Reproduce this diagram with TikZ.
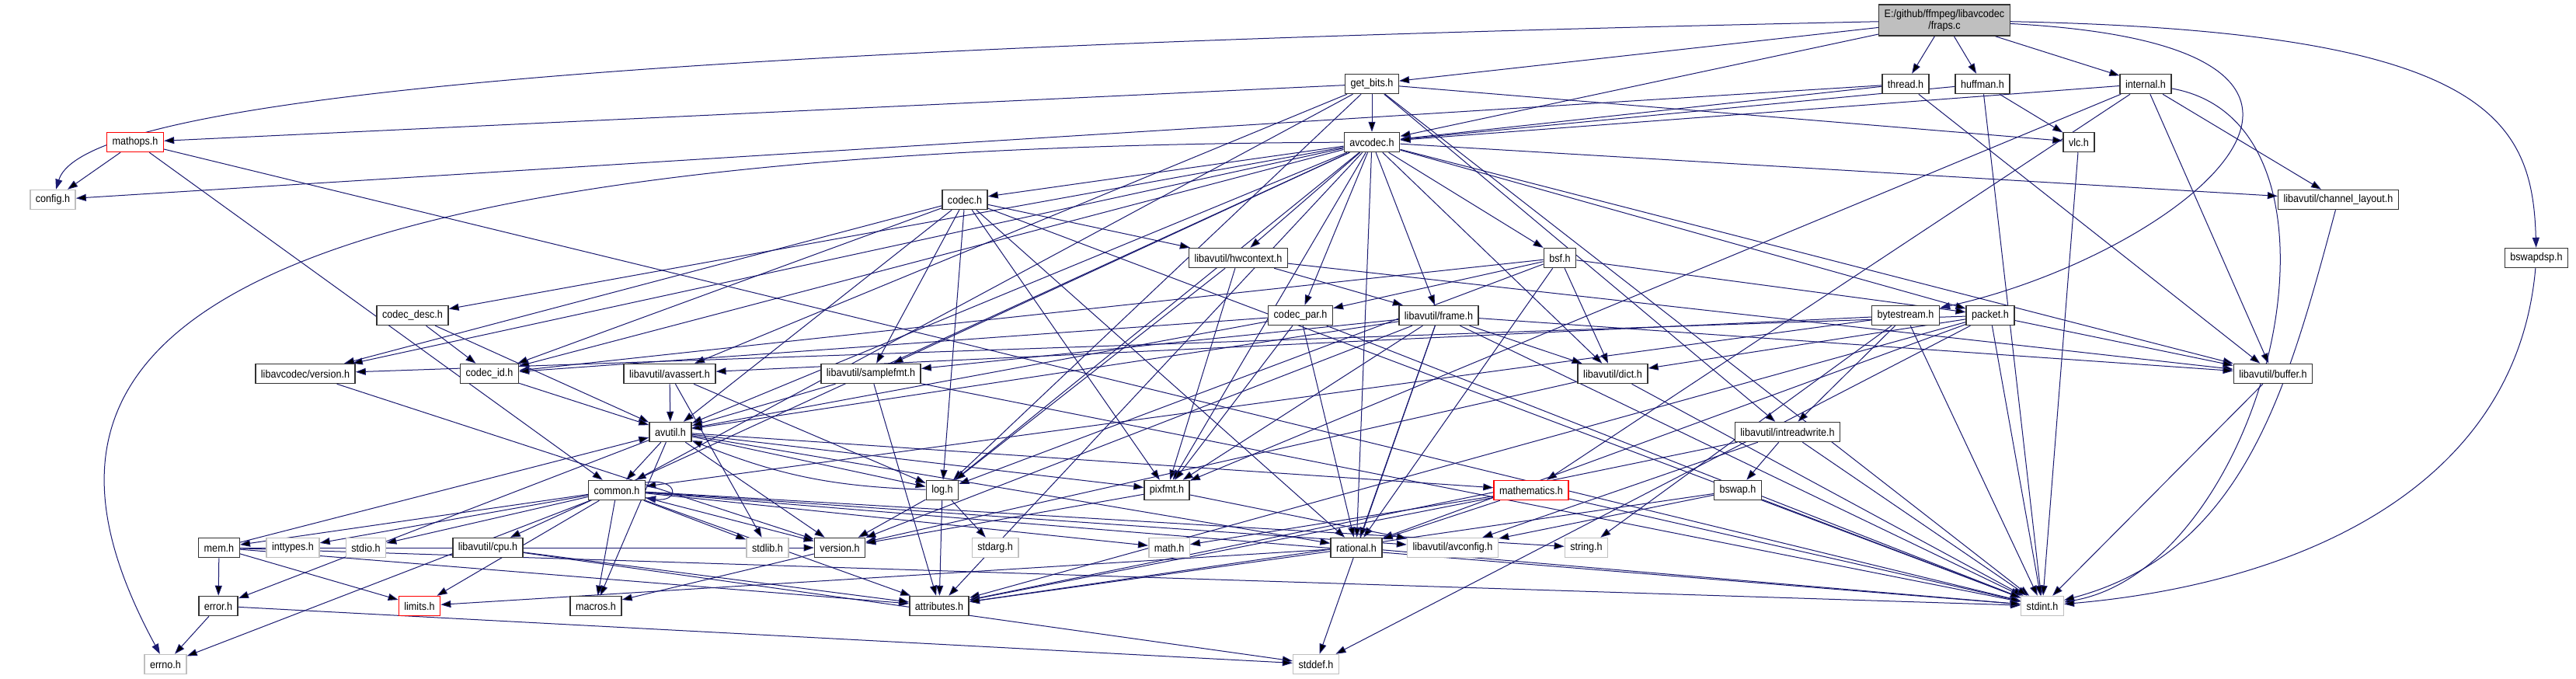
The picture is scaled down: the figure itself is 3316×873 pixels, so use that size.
\documentclass[tikz,border=0pt]{standalone}
\usepackage{fontspec}
\newfontfamily\doxfont[FakeStretch=0.9]{Liberation Sans}
\usetikzlibrary{arrows.meta,backgrounds}
\definecolor{edgeBlue}{RGB}{25,25,112}
\definecolor{boxGrey}{RGB}{191,191,191}

\begin{document}
\begin{tikzpicture}[x=1pt,y=1pt,
    file/.style={draw=black!80, line width=1.5pt, fill=white, minimum height=25pt,
      inner xsep=7pt, inner ysep=0pt, font=\doxfont\fontsize{14}{15}\selectfont},
    sysfile/.style={file, draw=boxGrey},
    cutfile/.style={file, draw=red},
    dep/.style={draw=edgeBlue, line width=1pt, -{Triangle[length=13pt,width=9pt]}}]
    \useasboundingbox (0,0) rectangle (3316,-873);
    % Source file
    \node[file, fill=boxGrey, minimum height=40pt, align=center] (frapsc) at (2503,-26) {E:/github/ffmpeg/libavcodec\\/fraps.c};
    % libavcodec headers
    \node[file] (getbits) at (1766,-108) {get\_bits.h};
    \node[file] (thread) at (2453,-108) {thread.h};
    \node[file] (huffman) at (2552,-108) {huffman.h};
    \node[file] (internal) at (2762,-108) {internal.h};
    \node[cutfile] (mathops) at (174,-183) {mathops.h};
    \node[sysfile] (config) at (68,-257) {config.h};
    \node[file] (avcodec) at (1766,-183) {avcodec.h};
    \node[file] (vlc) at (2676,-183) {vlc.h};
    \node[file] (codec) at (1242,-257) {codec.h};
    \node[file] (chlayout) at (3010,-257) {libavutil/channel\_layout.h};
    \node[file] (hwcontext) at (1594,-332) {libavutil/hwcontext.h};
    \node[file] (bsf) at (2008,-332) {bsf.h};
    \node[file] (bswapdsp) at (3265,-332) {bswapdsp.h};
    \node[file] (codecdesc) at (531,-406) {codec\_desc.h};
    \node[file] (codecpar) at (1674,-406) {codec\_par.h};
    \node[file] (frame) at (1852,-406) {libavutil/frame.h};
    \node[file] (bytestream) at (2453,-406) {bytestream.h};
    \node[file] (packet) at (2562,-406) {packet.h};
    \node[file] (lavcversion) at (393,-481) {libavcodec/version.h};
    \node[file] (codecid) at (630,-481) {codec\_id.h};
    % libavutil headers
    \node[file] (avassert) at (862,-481) {libavutil/avassert.h};
    \node[file] (samplefmt) at (1121,-481) {libavutil/samplefmt.h};
    \node[file] (dict) at (2076,-481) {libavutil/dict.h};
    \node[file] (buffer) at (2926,-481) {libavutil/buffer.h};
    \node[file] (avutil) at (863,-556) {avutil.h};
    \node[file] (intreadwrite) at (2301,-556) {libavutil/intreadwrite.h};
    \node[file] (common) at (794,-631) {common.h};
    \node[file] (logh) at (1213,-631) {log.h};
    \node[file] (pixfmt) at (1502,-631) {pixfmt.h};
    \node[cutfile] (mathematics) at (1971,-631) {mathematics.h};
    \node[file] (bswap) at (2237,-631) {bswap.h};
    \node[file] (mem) at (282,-705) {mem.h};
    \node[sysfile] (inttypes) at (377,-705) {inttypes.h};
    \node[sysfile] (stdio) at (471,-705) {stdio.h};
    \node[file] (cpu) at (628,-705) {libavutil/cpu.h};
    \node[sysfile] (stdlib) at (988,-705) {stdlib.h};
    \node[file] (version) at (1081,-705) {version.h};
    \node[sysfile] (stdarg) at (1281,-705) {stdarg.h};
    \node[sysfile] (math) at (1505,-705) {math.h};
    \node[file] (rational) at (1746,-705) {rational.h};
    \node[sysfile] (avconfig) at (1870,-705) {libavutil/avconfig.h};
    \node[sysfile] (string) at (2042,-705) {string.h};
    \node[file] (error) at (281,-780) {error.h};
    \node[cutfile] (limits) at (540,-780) {limits.h};
    \node[file] (macros) at (767,-780) {macros.h};
    \node[file] (attributes) at (1209,-780) {attributes.h};
    \node[sysfile] (stdint) at (2629,-780) {stdint.h};
    \node[sysfile] (errno) at (213,-855) {errno.h};
    \node[sysfile] (stddef) at (1694,-855) {stddef.h};

    \begin{pgfonlayer}{background}
    \fill[white] (0,0) rectangle (3316,-873);
    % fraps.c
    \path[dep] (frapsc) edge (getbits) edge (thread) edge (huffman) edge (internal) edge (avcodec);
    \draw[dep] (frapsc) .. controls (900,-60) and (110,-120) .. (config);
    \draw[dep] (frapsc) .. controls (3200,-40) and (3260,-150) .. (bswapdsp);
    \draw[dep] (frapsc) .. controls (3150,-60) and (2800,-330) .. (bytestream);
    % libavcodec
    \path[dep] (getbits) edge (avcodec) edge (mathops) edge (vlc) edge (intreadwrite) edge (logh) edge (avassert) edge (common) edge (stdint);
    \path[dep] (thread) edge (avcodec) edge (buffer) edge (config);
    \path[dep] (huffman) edge (avcodec) edge (vlc) edge (stdint);
    \path[dep] (internal) edge (avcodec) edge (chlayout) edge (buffer) edge (mathematics) edge (pixfmt) edge[out=-10,in=10] (stdint);
    \path[dep] (mathops) edge (config) edge (common) edge (stdint);
    \path[dep] (avcodec) edge (samplefmt) edge (attributes) edge (avutil) edge (buffer) edge (cpu) edge (chlayout) edge (dict) edge (frame) edge (hwcontext) edge (logh) edge (pixfmt) edge (rational) edge (bsf) edge (codec) edge (codecdesc) edge (codecpar) edge (codecid) edge (packet) edge (lavcversion);
    \draw[dep] (avcodec) .. controls (150,-190) and (10,-480) .. (errno);
    \path[dep] (vlc) edge (stdint);
    \path[dep] (codec) edge (stdint) edge (avutil) edge (hwcontext) edge (logh) edge (pixfmt) edge (rational) edge (samplefmt) edge (codecid) edge (lavcversion);
    \path[dep] (chlayout) edge[out=-105,in=15] (stdint);
    \path[dep] (hwcontext) edge (buffer) edge (frame) edge (logh) edge (pixfmt);
    \path[dep] (bsf) edge (dict) edge (logh) edge (rational) edge (codecid) edge (codecpar) edge (packet);
    \path[dep] (bswapdsp) edge[out=-95,in=5] (stdint);
    \path[dep] (codecdesc) edge (avutil) edge (codecid);
    \path[dep] (codecpar) edge (stdint) edge (avutil) edge (rational) edge (pixfmt) edge (codecid);
    \path[dep] (bytestream) edge (stdint) edge (string) edge (avassert) edge (common) edge (intreadwrite);
    \path[dep] (packet) edge (stddef) edge (stdint) edge (attributes) edge (buffer) edge (dict) edge (rational) edge (lavcversion);
    \path[dep] (lavcversion) edge (version);
    \path[dep] (codecid) edge (avutil);
    % libavutil
    \path[dep] (frame) edge (stddef) edge (stdint) edge (avutil) edge (buffer) edge (dict) edge (rational) edge (samplefmt) edge (pixfmt) edge (version);
    \path[dep] (avassert) edge (stdlib) edge (avutil) edge (logh);
    \path[dep] (samplefmt) edge (stdint) edge (avutil) edge (attributes);
    \path[dep] (dict) edge (stdint) edge (version);
    \path[dep] (buffer) edge (stdint);
    \path[dep] (avutil) edge (common) edge (error) edge (rational) edge (version) edge (macros) edge (mathematics) edge (logh) edge (pixfmt);
    \path[dep] (intreadwrite) edge (stdint) edge (avconfig) edge (attributes) edge (bswap);
    \path[dep] (common) edge (errno) edge (inttypes) edge (limits) edge (math) edge (stdint) edge (stdio) edge (stdlib) edge (string) edge (attributes) edge (macros) edge (version) edge (avconfig) edge (mem);
    \draw[dep] (common.15) .. controls (875,-615) and (875,-647) .. (common.-15);
    \path[dep] (logh) edge (stdarg) edge[bend left=10] (avutil) edge (attributes) edge (version);
    \path[dep] (pixfmt) edge (avconfig) edge (version);
    \path[dep] (mathematics) edge (stdint) edge (math) edge (attributes) edge (rational);
    \path[dep] (bswap) edge (stdint) edge (avconfig) edge (attributes);
    \path[dep] (mem) edge (limits) edge (stdint) edge (attributes) edge (error) edge (avutil) edge (version);
    \path[dep] (cpu) edge (stddef) edge (attributes);
    \path[dep] (rational) edge (stdint) edge (limits) edge (attributes);
    \path[dep] (error) edge (errno) edge (stddef);
    \path[dep] (version) edge (macros);
    \end{pgfonlayer}
\end{tikzpicture}
\end{document}
